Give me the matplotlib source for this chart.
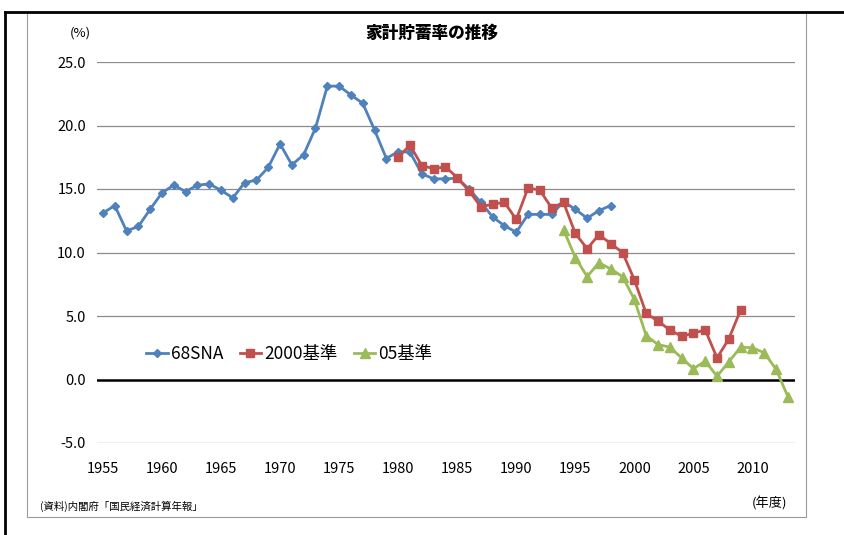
import matplotlib
matplotlib.use("Agg")
import matplotlib.pyplot as plt
from matplotlib.lines import Line2D
from matplotlib.patches import Rectangle

plt.rcParams['font.family'] = ['Noto Sans CJK JP', 'DejaVu Sans']

years_68 = list(range(1955, 1999))
sna68 = [13.1, 13.7, 11.7, 12.05, 13.4, 14.7, 15.3, 14.8, 15.3, 15.4,
         14.9, 14.3, 15.5, 15.7, 16.7, 18.55, 16.9, 17.7, 19.8, 23.1,
         23.1, 22.4, 21.75, 19.65, 17.4, 17.95, 17.9, 16.2, 15.8, 15.8,
         15.85, 15.0, 13.95, 12.8, 12.1, 11.6, 13.0, 13.0, 13.0, 14.0,
         13.4, 12.7, 13.3, 13.7]
years_2000 = list(range(1980, 2010))
std2000 = [17.5, 18.45, 16.85, 16.6, 16.75, 15.9, 14.85, 13.6, 13.8, 13.95,
           12.6, 15.1, 14.9, 13.5, 13.95, 11.5, 10.3, 11.4, 10.7, 10.0,
           7.85, 5.2, 4.6, 3.9, 3.4, 3.65, 3.9, 1.7, 3.2, 5.5]
years_05 = list(range(1994, 2014))
std05 = [11.8, 9.6, 8.1, 9.2, 8.7, 8.1, 6.3, 3.45, 2.75, 2.55,
         1.7, 0.85, 1.45, 0.25, 1.4, 2.55, 2.5, 2.1, 0.8, -1.35]

series_names = ['68SNA', '2000基準', '05基準']
yticks = [-5, 0, 5, 10, 15, 20, 25]
xticks = list(range(1955, 2015, 5))

fig = plt.figure(figsize=(8.45, 5.35), dpi=100)
W, H = 845, 535

def fx(px):
    return px / W

def fy(py):
    return 1 - py / H

# frames
fig.add_artist(Line2D([fx(5), fx(5)], [fy(12), 0], color='black', lw=2))
fig.add_artist(Line2D([fx(5), 1], [fy(12), fy(12)], color='black', lw=2))
fig.add_artist(Rectangle((fx(27), fy(517)), fx(806) - fx(27), fy(12) - fy(517),
                         fill=False, edgecolor='#9a9a9a', lw=0.8))

ax = fig.add_axes([fx(97), fy(443), fx(795) - fx(97), fy(62) - fy(443)])
ax.set_xlim(1954.5, 2013.6)
ax.set_ylim(-5, 25)

for y in yticks:
    if y == 0:
        ax.axhline(y, color='black', lw=1.8, zorder=1)
    else:
        ax.axhline(y, color='#8c8c8c', lw=0.9, zorder=1)

ax.plot(years_68, sna68, color='#4F81BD', lw=2.0, marker='D', ms=4.5,
        label=series_names[0], zorder=3)
ax.plot(years_2000, std2000, color='#C0504D', lw=2.0, marker='s', ms=6,
        label=series_names[1], zorder=3)
ax.plot(years_05, std05, color='#9BBB59', lw=2.0, marker='^', ms=6.5,
        label=series_names[2], zorder=3)

for s in ax.spines.values():
    s.set_visible(False)
ax.set_yticks(yticks)
ax.set_yticklabels([f'{v:.1f}' for v in yticks], fontsize=10.5)
ax.set_xticks(xticks)
ax.set_xticklabels([str(v) for v in xticks], fontsize=10.5)
ax.tick_params(axis='y', length=0, pad=8)
ax.tick_params(axis='x', length=0, pad=14)

leg = ax.legend(loc='upper left', bbox_to_anchor=(fx(143), fy(342)),
                bbox_transform=fig.transFigure,
                ncol=3, frameon=False, fontsize=12.5, handlelength=1.25,
                columnspacing=0.95, handletextpad=0.15, borderaxespad=0,
                borderpad=0.2)

fig.text(fx(432), fy(33), '家計貯蓄率の推移', ha='center', va='center',
         fontsize=12, fontweight='heavy')
fig.text(fx(80), fy(33), '(%)', ha='center', va='center', fontsize=9.5)
fig.text(fx(40), fy(506), '(資料)内閣府「国民経済計算年報」', ha='left', va='center', fontsize=7.5)
fig.text(fx(770), fy(504), '(年度)', ha='center', va='center', fontsize=9.5)

fig.savefig('out.png', dpi=100)
